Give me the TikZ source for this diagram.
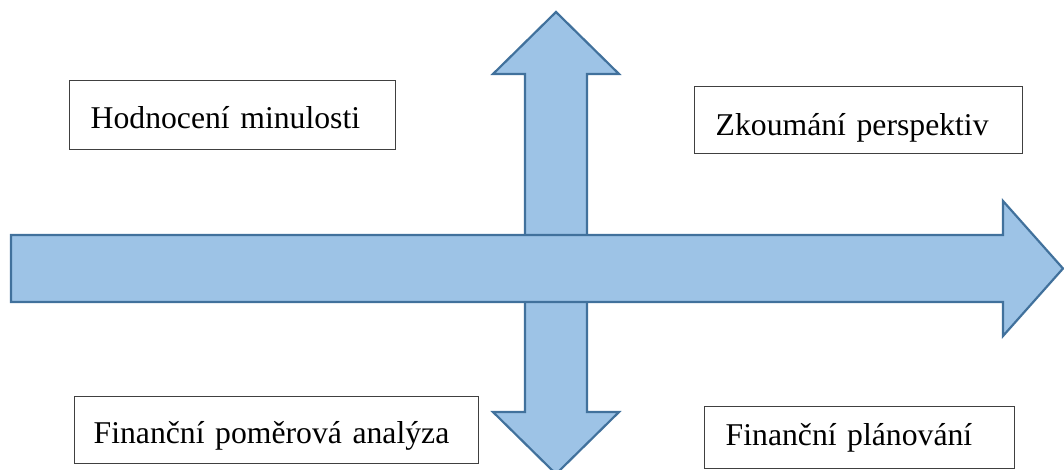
\documentclass[tikz,border=0pt]{standalone}
\usepackage{fontspec}
\setmainfont{Liberation Serif}
\definecolor{arrowfill}{HTML}{9DC3E6}
\definecolor{arrowline}{HTML}{41719C}
\definecolor{boxline}{HTML}{404040}
\begin{document}
\begin{tikzpicture}[x=1pt,y=-1pt]
\tikzstyle{bigarrow}=[fill=arrowfill,draw=arrowline,line width=2.2pt,line join=miter]
\tikzstyle{stage}=[draw=boxline,line width=1.4pt,rectangle,anchor=north west,inner ysep=0pt,inner xsep=21pt,align=left,font=\rmfamily\fontsize{31.7}{38}\selectfont]

\useasboundingbox (0,0) rectangle (1064,470);
\draw[bigarrow] (556,12) -- (619,74) -- (587,74) -- (587,412) -- (619,412) -- (556,474)
  -- (493,412) -- (525,412) -- (525,74) -- (493,74) -- cycle;
\draw[bigarrow] (11,235) -- (1003,235) -- (1003,201) -- (1063,268.5) -- (1003,336)
  -- (1003,302) -- (11,302) -- cycle;

\node[stage,text width=284pt,text height=48pt,text depth=21pt] (past) at (69,80) {Hodnocení minulosti};
\node[stage,text width=286pt,text height=49pt,text depth=18pt] (future) at (694,86) {Zkoumání perspektiv};
\node[stage,inner xsep=19pt,text width=366pt,text height=47pt,text depth=20pt] (ratios) at (74,396) {Finanční poměrová analýza};
\node[stage,text width=268pt,text height=39pt,text depth=23pt] (planning) at (704,406) {Finanční plánování};
\end{tikzpicture}
\end{document}
